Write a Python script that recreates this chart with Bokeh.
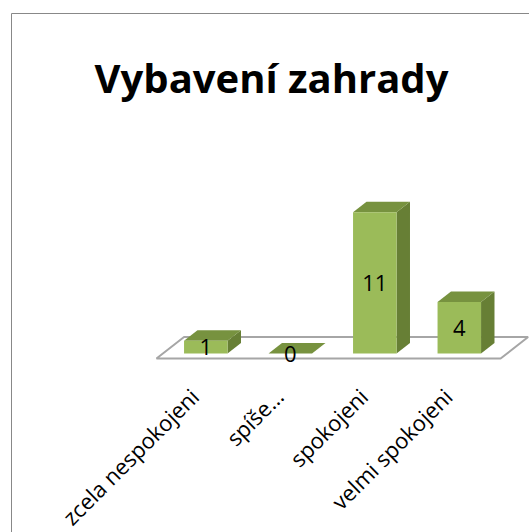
import math
from bokeh.plotting import figure
from bokeh.models import ColumnDataSource, Range1d
from bokeh.embed import file_html
from bokeh.resources import INLINE
from bokeh.core.properties import value

# ---- data ----
title_text = "Vybavení zahrady"
categories = ["zcela nespokojeni", "spíše…", "spokojeni", "velmi spokojeni"]
counts = [1, 0, 11, 4]

# ---- layout (pixels) ----
W, H = 529, 532
PX_X = 84.5          # px per category step
PX_Y = 12.85         # px per count unit
X0_PX = 205.3        # px of first category center
Y0_PX = 353.0        # px of value 0 (bar front bottom)

x_start = -X0_PX / PX_X
x_end = (W - X0_PX) / PX_X
y_end = Y0_PX / PX_Y
y_start = -(H - Y0_PX) / PX_Y


def dxu(px):
    return px / PX_X


def dyu(px):
    return px / PX_Y


OBL = 1.28            # horizontal shift per vertical px of depth
BAR_W = dxu(43.5)
BAR_D = 10.5          # bar depth (vertical px)
FLOOR_FRONT = -5.0    # px
FLOOR_BACK = 16.5     # px

FRONT = "#9bbb59"
TOP = "#77923f"
SIDE = "#677f35"

p = figure(width=W, height=H, output_backend="svg", toolbar_location=None,
           x_range=Range1d(x_start, x_end), y_range=Range1d(y_start, y_end),
           min_border=0, min_border_left=0, min_border_right=0,
           min_border_top=0, min_border_bottom=0)
p.axis.visible = False
p.grid.visible = False
p.outline_line_color = None
p.background_fill_color = "white"
p.border_fill_color = "white"

# chart area border (left and top edges visible)
bx = x_start + dxu(11)
by = y_end - dyu(13)
p.line([bx, bx, x_end], [y_start, by, by], line_color="#888888", line_width=1)

# floor
n = len(categories)
fl_x0 = -dxu(49.3)
fl_x1 = (n - 1) + dxu(41.3)
depth_x = dxu((FLOOR_BACK - FLOOR_FRONT) * OBL)
fx = [fl_x0, fl_x0 + depth_x, fl_x1 + depth_x, fl_x1]
fy = [dyu(FLOOR_FRONT), dyu(FLOOR_BACK), dyu(FLOOR_BACK), dyu(FLOOR_FRONT)]
p.patch(fx, fy, fill_color="white", line_color="#a6a6a6", line_width=2)

# bars
ddx = dxu(BAR_D * OBL)
ddy = dyu(BAR_D)
side_xs, side_ys, top_xs, top_ys = [], [], [], []
for i, v in enumerate(counts):
    l = i - BAR_W / 2
    r = i + BAR_W / 2
    top_xs.append([l, r, r + ddx, l + ddx])
    top_ys.append([v, v, v + ddy, v + ddy])
    if v > 0:
        side_xs.append([r, r + ddx, r + ddx, r])
        side_ys.append([0, ddy, v + ddy, v])
p.patches(side_xs, side_ys, fill_color=SIDE, line_color=None)
p.patches(top_xs, top_ys, fill_color=TOP, line_color=None)

src = ColumnDataSource(dict(
    x=list(range(n)), top=counts, cat=categories,
    lab=[str(c) for c in counts], mid=[c / 2 for c in counts],
))
p.vbar(x="x", top="top", bottom=0, width=BAR_W, source=src,
       fill_color=FRONT, line_color=None)

# value labels
p.text(x="x", y="mid", text="lab", source=src, text_align="center",
       text_baseline="middle", text_font=value("Open Sans"),
       text_font_size="22px", text_color="black")

# category labels
cat_src = ColumnDataSource(dict(
    x=[i - dxu(22) for i in range(n)], y=[-dyu(28)] * n, cat=categories))
p.text(x="x", y="y", text="cat", source=cat_src, angle=math.pi / 4,
       text_align="right", text_baseline="top", text_font=value("Open Sans"),
       text_font_size="22px", text_color="black")

# title
p.text(x=[x_start + dxu(271)], y=[y_end - dyu(77)], text=[title_text],
       text_align="center", text_baseline="alphabetic",
       text_font=value("Open Sans"), text_font_style="bold",
       text_font_size="40px", text_color="black")

open("out.html", "w").write(file_html(p, INLINE))
